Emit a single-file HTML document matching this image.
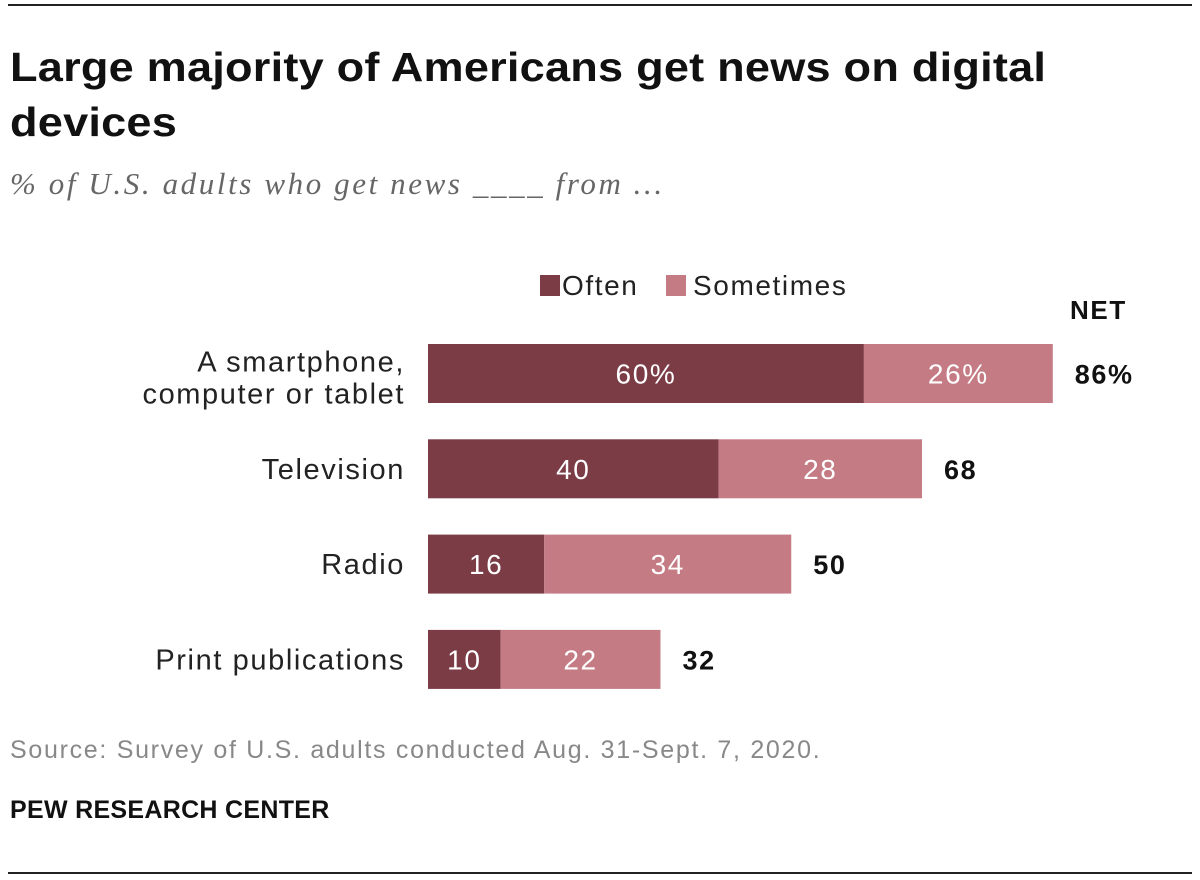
<!DOCTYPE html>
<html><head><meta charset="utf-8">
<style>
html,body{margin:0;padding:0;background:#fff;}
body{width:1200px;height:880px;position:relative;overflow:hidden;font-family:"Liberation Sans",sans-serif;}
.rule{position:absolute;left:8px;width:1184px;height:2px;background:#222;}
#title{position:absolute;left:10px;top:40px;font-size:41px;font-weight:bold;line-height:55px;color:#111;margin:0;letter-spacing:0.2px;transform:scaleX(1.1);transform-origin:left top;white-space:nowrap;}
#subtitle{position:absolute;left:10px;top:166px;font-family:"Liberation Serif",serif;font-style:italic;font-size:31px;color:#666;letter-spacing:2.6px;}
#source{position:absolute;left:10px;top:736px;font-size:25px;color:#888;letter-spacing:1.7px;}
#credit{position:absolute;left:10px;top:796px;font-size:25px;font-weight:bold;color:#111;letter-spacing:0.3px;}
svg text{letter-spacing:1.6px;}
</style></head><body>
<div class="rule" style="top:4px"></div>
<h1 id="title">Large majority of Americans get news on digital<br>devices</h1>
<div id="subtitle">% of U.S. adults who get news ____ from …</div>
<svg id="chart" width="1200" height="880" style="position:absolute;left:0;top:0"></svg>
<div id="source">Source: Survey of U.S. adults conducted Aug. 31-Sept. 7, 2020.</div>
<div id="credit">PEW RESEARCH CENTER</div>
<div class="rule" style="top:872px"></div>
<script>
const categories=[["A smartphone,","computer or tablet"],["Television"],["Radio"],["Print publications"]];
const often=[60,40,16,10];
const sometimes=[26,28,34,22];
const net=[86,68,50,32];
const NS="http://www.w3.org/2000/svg";
const svg=document.getElementById('chart');
const x0=428, k=7.265;
function X(v){return x0+v*k;}
function Y(i){return 344+i*95.3;}
const bh=59;
function el(t,a,txt){const e=document.createElementNS(NS,t);for(const n in a)e.setAttribute(n,a[n]);if(txt!==undefined)e.textContent=txt;svg.appendChild(e);return e;}
let e=el('rect',{x:540,y:275,width:20,height:21,fill:'#7b3c46'});


e=el('text',{x:562,y:295,'font-size':28,fill:'#222'},'Often');


e=el('rect',{x:666,y:275,width:20,height:21,fill:'#c47b84'});


e=el('text',{x:693,y:295,'font-size':28,fill:'#222','letter-spacing':'2.5px'},'Sometimes');


e=el('text',{x:1070,y:319,'font-size':26,'font-weight':'bold',fill:'#111'},'NET');


categories.forEach((c,i)=>{
  const y=Y(i);
  const sfx=i===0?'%':'';
  let r=el('rect',{x:X(0),y:y,width:X(often[i])-X(0),height:bh,fill:'#7b3c46'});
  
  
  r=el('rect',{x:X(often[i]),y:y,width:X(often[i]+sometimes[i])-X(often[i]),height:bh,fill:'#c47b84'});
  
  
  let t=el('text',{x:(X(0)+X(often[i]))/2,y:y+bh/2+10,'font-size':28,fill:'#fff','text-anchor':'middle'},often[i]+sfx);
  
  
  t=el('text',{x:(X(often[i])+X(often[i]+sometimes[i]))/2,y:y+bh/2+10,'font-size':28,fill:'#fff','text-anchor':'middle'},sometimes[i]+sfx);
  
  
  t=el('text',{x:X(often[i]+sometimes[i])+22,y:y+bh/2+10,'font-size':27,'font-weight':'bold',fill:'#111'},net[i]+sfx);
  
  
  const ly=c.length===1?[y+bh/2+10]:[y+bh/2-2,y+bh/2+30];
  c.forEach((line,j)=>{
    const lt=el('text',{x:405,y:ly[j],'font-size':29,fill:'#222','text-anchor':'end'},line);
    
    
  });
});
</script>
</body></html>
